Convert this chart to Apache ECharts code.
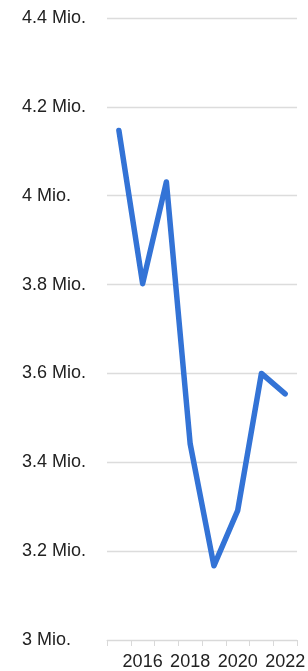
<!DOCTYPE html>
<html>
<head>
<meta charset="utf-8">
<script src="https://cdn.jsdelivr.net/npm/echarts@6/dist/echarts.min.js"></script>
<style>
html,body{margin:0;padding:0;background:#fff;}
#chartmain{width:308px;height:671px;}
</style>
</head>
<body>
<div id="chartmain"></div>
<script>
var years = ['2015','2016','2017','2018','2019','2020','2021','2022'];
var values = [4147000, 3802000, 4031000, 3442000, 3167000, 3291000, 3600000, 3554000];
var yMin = 3000000, yMax = 4400000, yStep = 200000;

function fmtMio(v){
    var m = Math.round(v/100000)/10;
    return String(m) + ' Mio.';
}

var option = {
    animation: false,
    grid: {left: 107, right: 8, top: 18, bottom: 31, containLabel: false},
    xAxis: {
        type: 'category',
        data: years,
        boundaryGap: true,
        axisLine: {show: true, lineStyle: {color: '#d9d9d9', width: 1}},
        axisTick: {show: true, interval: 0, length: 6, lineStyle: {color: '#d9d9d9'}},
        axisLabel: {
            interval: function (i) { return i % 2 === 1; },
            color: '#222',
            fontFamily: 'Liberation Sans, Arial',
            fontSize: 18,
            margin: 13
        },
        splitLine: {show: false}
    },
    yAxis: {
        type: 'value',
        min: yMin,
        max: yMax,
        interval: yStep,
        axisLine: {show: false},
        axisTick: {show: false},
        axisLabel: {
            color: '#222',
            fontFamily: 'Liberation Sans, Arial',
            fontSize: 18,
            align: 'left',
            margin: 85,
            formatter: fmtMio
        },
        splitLine: {lineStyle: {color: '#dcdcdc', width: 1.3}}
    },
    series: [{
        type: 'line',
        data: values,
        showSymbol: false,
        symbol: 'none',
        lineStyle: {color: '#3373d6', width: 5.5, cap: 'round', join: 'round'}
    }]
};
var myChart = echarts.init(document.getElementById('chartmain'));
myChart.setOption(option);
</script>
</body>
</html>
